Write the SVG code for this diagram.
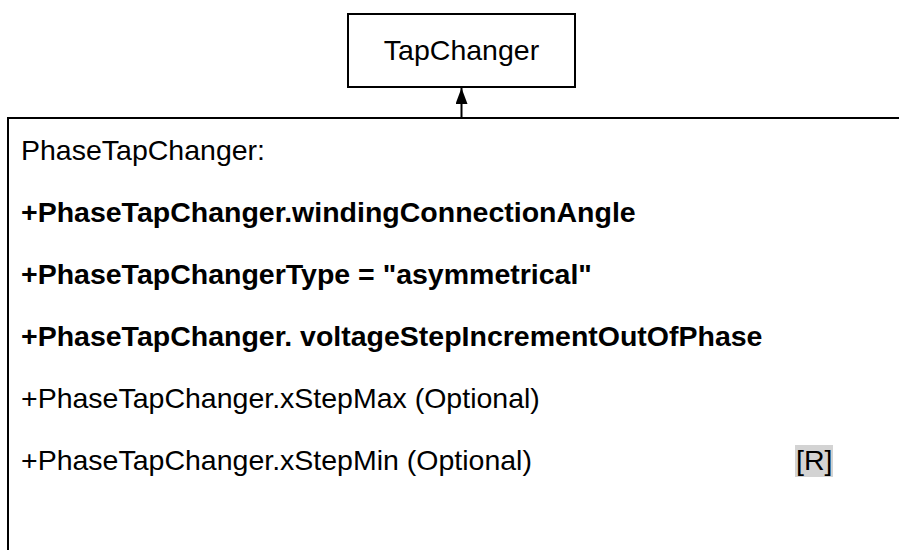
<svg xmlns="http://www.w3.org/2000/svg" width="899" height="550" viewBox="0 0 899 550">
<defs>
<style>
.box{fill:#ffffff;stroke:#000000;stroke-width:2}
.line{stroke:#000000;stroke-width:2;fill:none}
.t{font-family:"Liberation Sans",Arial,sans-serif;font-size:28.5px;fill:#000000}
.b{font-weight:bold}
</style>
<marker id="tri" viewBox="0 0 16 12" refX="16" refY="6" markerWidth="16" markerHeight="12" markerUnits="userSpaceOnUse" orient="auto">
<path d="M0,0 L16,6 L0,12 Z" fill="#000000"/>
</marker>
</defs>
<rect width="899" height="550" fill="#ffffff"/>
<g id="TapChanger">
<rect class="box" x="348" y="14" width="227" height="73"/>
<text class="t" x="461.5" y="60" text-anchor="middle">TapChanger</text>
</g>
<g id="PhaseTapChanger">
<path class="line" d="M899,118 L8,118 L8,550"/>
<text class="t" x="21" y="160">PhaseTapChanger:</text>
<text class="t b" x="21" y="222">+PhaseTapChanger.windingConnectionAngle</text>
<text class="t b" x="21" y="284">+PhaseTapChangerType = "asymmetrical"</text>
<text class="t b" x="21" y="346">+PhaseTapChanger. voltageStepIncrementOutOfPhase</text>
<text class="t" x="21" y="408">+PhaseTapChanger.xStepMax (Optional)</text>
<text class="t" x="21" y="470">+PhaseTapChanger.xStepMin (Optional)</text>
<rect x="795" y="445" width="38" height="32" fill="#d3d3d3"/>
<text class="t" x="796" y="470">[R]</text>
</g>
<g id="connectors">
<path class="line" d="M461.5,118 L461.5,88" marker-end="url(#tri)"/>
</g>
</svg>
